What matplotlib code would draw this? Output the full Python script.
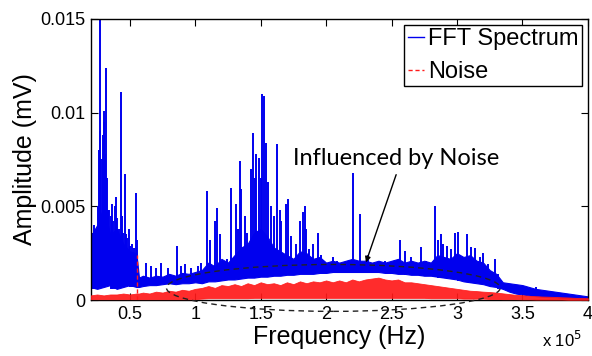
import numpy as np
import matplotlib
matplotlib.use("Agg")
import matplotlib.pyplot as plt
from matplotlib.patches import Ellipse
from matplotlib.lines import Line2D

# ---------------- data (frequency in 1e5 Hz, amplitude in mV) ----------------
band_f = [0.20, 0.25, 0.30, 0.35, 0.40, 0.45, 0.50, 0.55, 0.57, 0.60, 0.65, 0.70,
          0.75, 0.80, 0.85, 0.90, 0.95, 1.00, 1.05, 1.10, 1.15, 1.20, 1.25, 1.30,
          1.35, 1.40, 1.45, 1.50, 1.55, 1.60, 1.65, 1.70, 1.75, 1.80, 1.85, 1.90,
          1.95, 2.00, 2.05, 2.10, 2.15, 2.20, 2.25, 2.30, 2.35, 2.40, 2.45, 2.50,
          2.55, 2.60, 2.65, 2.70, 2.75, 2.80, 2.85, 2.90, 2.95, 3.00, 3.05, 3.10,
          3.15, 3.20, 3.25, 3.30, 3.35, 3.40, 3.45, 3.50, 3.55, 3.60, 3.65, 3.70,
          3.75, 3.80, 3.85, 3.90, 3.95, 4.00]
fft_lo = [0.00070, 0.00060, 0.00070, 0.00080, 0.00060, 0.00070, 0.00080, 0.00070, 0.00070, 0.00075,
          0.00080, 0.00080, 0.00085, 0.00090, 0.00085, 0.00090, 0.00090, 0.00095, 0.00090, 0.00100,
          0.00100, 0.00105, 0.00110, 0.00110, 0.00115, 0.00120, 0.00120, 0.00125, 0.00125, 0.00130,
          0.00130, 0.00135, 0.00135, 0.00140, 0.00140, 0.00140, 0.00145, 0.00145, 0.00150, 0.00150,
          0.00150, 0.00150, 0.00150, 0.00150, 0.00150, 0.00150, 0.00145, 0.00145, 0.00140, 0.00140,
          0.00135, 0.00135, 0.00130, 0.00130, 0.00125, 0.00120, 0.00115, 0.00110, 0.00100, 0.00095,
          0.00090, 0.00085, 0.00075, 0.00070, 0.00060, 0.00045, 0.00035, 0.00030, 0.00025, 0.00022,
          0.00018, 0.00016, 0.00015, 0.00012, 0.00010, 0.00008, 0.00006, 0.00005]
fft_hi = [0.00340, 0.00400, 0.00500, 0.00350, 0.00380, 0.00300, 0.00260, 0.00250, 0.00120, 0.00130,
          0.00120, 0.00130, 0.00125, 0.00140, 0.00130, 0.00145, 0.00140, 0.00150, 0.00160, 0.00200,
          0.00180, 0.00220, 0.00200, 0.00240, 0.00280, 0.00300, 0.00360, 0.00380, 0.00340, 0.00280,
          0.00260, 0.00240, 0.00220, 0.00260, 0.00250, 0.00220, 0.00230, 0.00200, 0.00210, 0.00200,
          0.00210, 0.00220, 0.00210, 0.00210, 0.00200, 0.00210, 0.00200, 0.00210, 0.00220, 0.00200,
          0.00210, 0.00200, 0.00210, 0.00200, 0.00240, 0.00230, 0.00220, 0.00250, 0.00230, 0.00240,
          0.00210, 0.00200, 0.00160, 0.00140, 0.00095, 0.00090, 0.00085, 0.00080, 0.00070, 0.00060,
          0.00055, 0.00050, 0.00045, 0.00040, 0.00035, 0.00030, 0.00025, 0.00020]

spike_f = [0.201, 0.215, 0.225, 0.240, 0.255, 0.262, 0.269, 0.275, 0.285, 0.293, 0.300, 0.305,
           0.310, 0.315, 0.322, 0.330, 0.338, 0.345, 0.355, 0.365, 0.375, 0.385, 0.395, 0.405,
           0.415, 0.429, 0.437, 0.448, 0.460, 0.470, 0.480, 0.495, 0.505, 0.520, 0.535, 0.549,
           0.553,
           0.625, 0.663, 0.700, 0.740, 0.790, 0.860, 0.893, 0.918, 0.970, 1.020,
           1.046, 1.091, 1.110, 1.153, 1.168, 1.186, 1.242, 1.275, 1.309, 1.326, 1.339, 1.352,
           1.377, 1.397, 1.423, 1.441, 1.454, 1.466, 1.484, 1.500, 1.510, 1.525, 1.543, 1.556,
           1.576, 1.601, 1.627, 1.645, 1.657, 1.690, 1.710, 1.734, 1.772, 1.798, 1.823, 1.836,
           1.848, 1.869, 1.900, 1.938, 1.963, 2.014, 2.052, 2.085, 2.142, 2.205, 2.260, 2.320,
           2.370, 2.448, 2.562, 2.605, 2.651, 2.723, 2.766, 2.830, 2.855, 2.876, 2.893, 2.926,
           2.957, 2.983, 3.008, 3.046, 3.080, 3.110, 3.140, 3.174, 3.200, 3.237, 3.290, 3.310,
           3.339, 3.607]
spike_a = [0.0084, 0.0036, 0.0040, 0.0038, 0.0050, 0.0080, 0.0155, 0.0090, 0.0075, 0.0088, 0.0101, 0.0095,
           0.0078, 0.0124, 0.0065, 0.0048, 0.0048, 0.0035, 0.0045, 0.0051, 0.0042, 0.0050, 0.0055, 0.0044,
           0.0038, 0.0111, 0.0045, 0.0036, 0.0067, 0.0035, 0.0033, 0.0038, 0.0029, 0.0030, 0.0028, 0.0057,
           0.0032,
           0.0020, 0.0018, 0.0017, 0.0020, 0.0017, 0.0029, 0.0018, 0.0019, 0.0017, 0.0018,
           0.0020, 0.0058, 0.0032, 0.0042, 0.0049, 0.0035, 0.0022, 0.0060, 0.0051, 0.0038, 0.0074, 0.0059,
           0.0045, 0.0036, 0.0070, 0.0089, 0.0065, 0.0078, 0.0076, 0.0065, 0.0110, 0.0109, 0.0084, 0.0063,
           0.0050, 0.0045, 0.0083, 0.0048, 0.0042, 0.0051, 0.0054, 0.0034, 0.0030, 0.0042, 0.0047, 0.0050,
           0.0038, 0.0027, 0.0030, 0.0036, 0.0024, 0.0020, 0.0023, 0.0021, 0.0020, 0.0068, 0.0046, 0.0024,
           0.0020, 0.0021, 0.0032, 0.0026, 0.0023, 0.00285, 0.0021, 0.0050, 0.0032, 0.0035, 0.0030, 0.0029,
           0.0027, 0.0036, 0.00365, 0.0021, 0.0035, 0.00285, 0.0028, 0.0023, 0.0025, 0.0019, 0.0022, 0.0014,
           0.00107, 0.0007]

noise_lo = [0.00005, 0.00005, 0.00005, 0.00005, 0.00005, 0.00005, 0.00005, 0.00005, 0.00005, 0.00005,
            0.00005, 0.00005, 0.00005, 0.00005, 0.00005, 0.00005, 0.00005, 0.00005, 0.00008, 0.00010,
            0.00010, 0.00010, 0.00010, 0.00010, 0.00010, 0.00010, 0.00012, 0.00012, 0.00012, 0.00012,
            0.00012, 0.00012, 0.00012, 0.00012, 0.00012, 0.00012, 0.00012, 0.00012, 0.00012, 0.00012,
            0.00012, 0.00012, 0.00012, 0.00012, 0.00012, 0.00012, 0.00012, 0.00012, 0.00012, 0.00012,
            0.00012, 0.00012, 0.00012, 0.00010, 0.00010, 0.00010, 0.00010, 0.00010, 0.00008, 0.00008,
            0.00008, 0.00008, 0.00006, 0.00006, 0.00005, 0.00005, 0.00005, 0.00004, 0.00004, 0.00003,
            0.00003, 0.00003, 0.00003, 0.00003, 0.00002, 0.00002, 0.00002, 0.00002]
noise_hi = [0.00025, 0.00030, 0.00025, 0.00030, 0.00030, 0.00035, 0.00030, 0.00035, 0.00035, 0.00040,
            0.00035, 0.00045, 0.00040, 0.00050, 0.00045, 0.00055, 0.00050, 0.00060, 0.00065, 0.00075,
            0.00065, 0.00080, 0.00075, 0.00085, 0.00075, 0.00090, 0.00080, 0.00095, 0.00085, 0.00090,
            0.00080, 0.00095, 0.00085, 0.00100, 0.00090, 0.00100, 0.00095, 0.00105, 0.00095, 0.00105,
            0.00095, 0.00110, 0.00100, 0.00110, 0.00115, 0.00120, 0.00110, 0.00105, 0.00110, 0.00095,
            0.00095, 0.00090, 0.00085, 0.00080, 0.00075, 0.00070, 0.00065, 0.00060, 0.00055, 0.00050,
            0.00048, 0.00045, 0.00043, 0.00040, 0.00036, 0.00032, 0.00028, 0.00026, 0.00023, 0.00021,
            0.00019, 0.00018, 0.00017, 0.00015, 0.00014, 0.00012, 0.00011, 0.00010]
noise_spike_f = [0.556]
noise_spike_a = [0.0024]

xtick_vals = [0.5, 1, 1.5, 2, 2.5, 3, 3.5, 4]
xtick_labels = ["0.5", "1", "1.5", "2", "2.5", "3", "3.5", "4"]
ytick_vals = [0, 0.005, 0.01, 0.015]
ytick_labels = ["0", "0.005", "0.01", "0.015"]

BLUE = "#0000ee"
RED = "#ff1a1a"

# ---------------- figure ----------------
plt.rcParams['font.family'] = ['Liberation Sans', 'DejaVu Sans']
fig = plt.figure(figsize=(5.92, 3.56), dpi=100)
ax = fig.add_axes([0.153, 0.157, 0.840, 0.790])

bf = np.array(band_f)
ax.fill_between(bf, fft_lo, fft_hi, color=BLUE, lw=0.8, edgecolor=BLUE, zorder=2)
idx = np.clip(np.searchsorted(bf, spike_f), 0, len(bf) - 1)
base = np.array(fft_lo)[idx]
ax.vlines(spike_f, base, spike_a, color=BLUE, lw=1.4, zorder=2)

ax.fill_between(bf, noise_lo, noise_hi, facecolor=RED, edgecolor=RED, lw=0.6,
                alpha=0.92, zorder=3)
ax.vlines(noise_spike_f, 0, noise_spike_a, color=RED, lw=1.0, linestyles=(0, (3, 2)), zorder=3)

# dashed ellipse marking noise-influenced region
ell = Ellipse((2.055, 0.00065), 2.55, 0.0025, fill=False, ls=(0, (4, 3)),
              ec="#222222", lw=1.0, clip_on=False, zorder=4)
ax.add_patch(ell)

ax.annotate("", xy=(2.297, 0.00187), xytext=(2.542, 0.00683),
            arrowprops=dict(arrowstyle="-|>", color="black", lw=1.0, mutation_scale=8),
            zorder=5)
ax.text(1.747, 0.0072, "Influenced by Noise", family=["Lato", "DejaVu Sans"],
        fontsize=17, ha="left", va="baseline", zorder=5)

ax.set_xlim(0.2, 4.0)
ax.set_ylim(0, 0.015)
ax.set_xticks(xtick_vals)
ax.set_xticklabels(xtick_labels)
ax.set_yticks(ytick_vals)
ax.set_yticklabels(ytick_labels)
ax.tick_params(direction="in", top=True, right=True, length=5, width=0.8,
               labelsize=13, pad=4)
for s in ax.spines.values():
    s.set_linewidth(1.0)
    s.set_color("black")

ax.set_xlabel("Frequency (Hz)", fontsize=18, labelpad=2)
ax.set_ylabel("Amplitude (mV)", fontsize=18, labelpad=2)
fig.text(0.915, 0.025, r"x 10$^5$", fontsize=12)

handles = [Line2D([], [], color=BLUE, lw=1.0),
           Line2D([], [], color=RED, lw=1.0, ls=(0, (3, 2)))]
leg = ax.legend(handles, ["FFT Spectrum", "Noise"], loc="upper right",
                fontsize=17, handlelength=0.7, handletextpad=0.15,
                borderaxespad=0.25, borderpad=0.15, labelspacing=0.45,
                fancybox=False, framealpha=1, edgecolor="black")
leg.get_frame().set_linewidth(1.0)

fig.savefig("out.png", dpi=100)
